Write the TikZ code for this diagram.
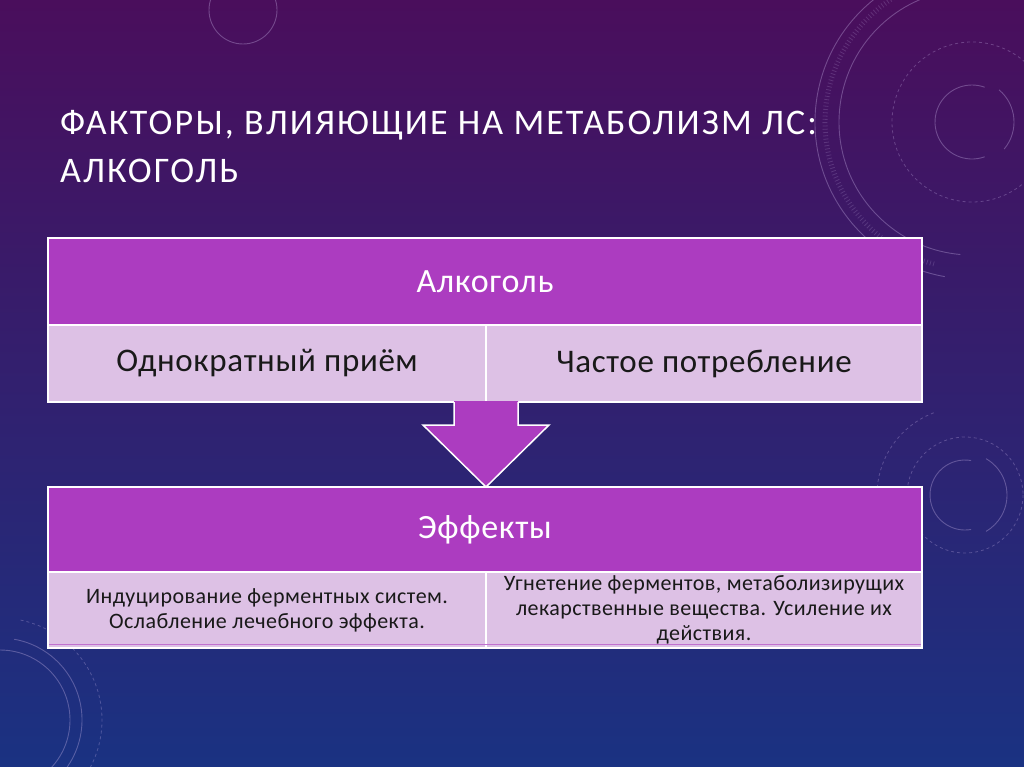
\documentclass[tikz,border=0pt]{standalone}
\usepackage{fontspec}
\setmainfont{Carlito}
\usetikzlibrary{calc}
\definecolor{bgtop}{RGB}{74,14,92}
\definecolor{bgmid}{RGB}{58,30,112}
\definecolor{bgbot}{RGB}{26,50,130}
\definecolor{hdrc}{RGB}{172,60,192}
\definecolor{rowc}{RGB}{221,193,229}
\definecolor{deco}{RGB}{200,180,230}
\tikzset{
  hdr/.style={rectangle, fill=hdrc, draw=white, line width=1.5pt, text=white,
    font=\fontsize{34}{40}\selectfont\addfontfeature{LetterSpace=2}, inner sep=0pt, outer sep=0pt},
  cell/.style={rectangle, fill=rowc, draw=white, line width=1.5pt, text=black!90,
    inner sep=0pt, outer sep=0pt, align=center},
  bigtxt/.style={font=\fontsize{33}{38}\selectfont\addfontfeature{LetterSpace=2}},
  smalltxt/.style={font=\fontsize{22}{25}\selectfont\addfontfeature{LetterSpace=2}},
  titletxt/.style={text=white, font=\fontsize{36}{44}\selectfont\addfontfeature{LetterSpace=5.8}, inner sep=0pt},
  arrowbox/.style={fill=hdrc, draw=white, line width=1.5pt, line join=miter},
  decoline/.style={draw=deco, opacity=0.35, line width=0.9pt},
  decodash/.style={draw=deco, opacity=0.3, line width=0.8pt, dash pattern=on 3pt off 3pt}
}
\begin{document}
\begin{tikzpicture}[x=1pt,y=-1pt]
\shade[top color=bgtop, middle color=bgmid, bottom color=bgbot] (0,0) rectangle (1024,767);
\useasboundingbox (0,0) rectangle (1024,767);
% background decorations
\begin{scope}
\clip (0,0) rectangle (1024,767);
% top right HUD
\draw[decoline] (972,122) ++(70:37) arc[start angle=70, end angle=290, radius=37];
\draw[decoline] (972,122) ++(-50:42) arc[start angle=-50, end angle=40, radius=42];
\draw[decodash] (972,122) circle[radius=80];
\draw[decoline] (972,122) ++(95:133) arc[start angle=95, end angle=255, radius=133];
\draw[decoline] (972,122) ++(100:157) arc[start angle=100, end angle=280, radius=157];
\draw[decoline, opacity=0.2, line width=5pt, dash pattern=on 0.8pt off 2.5pt] (972,122) ++(105:147) arc[start angle=105, end angle=275, radius=147];
% middle right
\draw[decoline] (965,495) ++(80:35) arc[start angle=80, end angle=280, radius=35];
\draw[decoline] (965,495) ++(-60:42) arc[start angle=-60, end angle=60, radius=42];
\draw[decodash] (965,495) circle[radius=58];
\draw[decodash] (965,495) ++(130:88) arc[start angle=130, end angle=250, radius=88];
% bottom left
\draw[decoline] (0,720) circle[radius=70];
\draw[decoline] (0,720) ++(60:82) arc[start angle=60, end angle=-80, radius=82];
\draw[decodash] (0,720) ++(75:102) arc[start angle=75, end angle=-80, radius=102];
% top left small
\draw[decoline] (243,10) ++(200:30) arc[start angle=200, end angle=300, radius=30];
\draw[decoline] (243,10) circle[radius=34];
\end{scope}
% title
\node[titletxt, anchor=base west] (title1) at (60,135) {ФАКТОРЫ, ВЛИЯЮЩИЕ НА МЕТАБОЛИЗМ ЛС:};
\node[titletxt, anchor=base west] (title2) at (60,183) {АЛКОГОЛЬ};
% top block
\node[hdr, minimum width=874pt, minimum height=87pt, anchor=north west] (h1) at (48,238) {Алкоголь};
\node[cell, bigtxt, minimum width=438pt, minimum height=77pt, anchor=north west] (c1) at (h1.south west) {Однократный приём};
\node[cell, bigtxt, minimum width=436pt, minimum height=77pt, anchor=north west] (c2) at (c1.north east) {Частое потребление};
% arrow
\coordinate (atop) at (c1.south east);
\fill[hdrc] ($(atop)+(-32,-1)$) -- ($(atop)+(-32,23)$) -- ($(atop)+(-63,23)$) -- ($(atop)+(0,85)$)
  -- ($(atop)+(63,23)$) -- ($(atop)+(32,23)$) -- ($(atop)+(32,-1)$) -- cycle;
\draw[arrowbox, fill=none] ($(atop)+(-32,0)$) -- ($(atop)+(-32,23)$) -- ($(atop)+(-63,23)$) -- ($(atop)+(0,85)$)
  -- ($(atop)+(63,23)$) -- ($(atop)+(32,23)$) -- ($(atop)+(32,0)$);
% bottom block
\node[hdr, minimum width=874pt, minimum height=85pt, anchor=north west] (h2) at (48,487) {Эффекты};
\node[cell, smalltxt, minimum width=438pt, minimum height=76pt, anchor=north west] (d1) at (h2.south west) {Индуцирование ферментных систем.\\Ослабление лечебного эффекта.};
\node[cell, smalltxt, minimum width=436pt, minimum height=76pt, anchor=north west] (d2) at (d1.north east) {Угнетение ферментов, метаболизирущих\\лекарственные вещества. Усиление их\\действия.};
\draw[hdrc!60!rowc, line width=1pt] ($(d1.south west)+(1,-4)$) -- ($(d2.south east)+(-1,-4)$);
\end{tikzpicture}
\end{document}
